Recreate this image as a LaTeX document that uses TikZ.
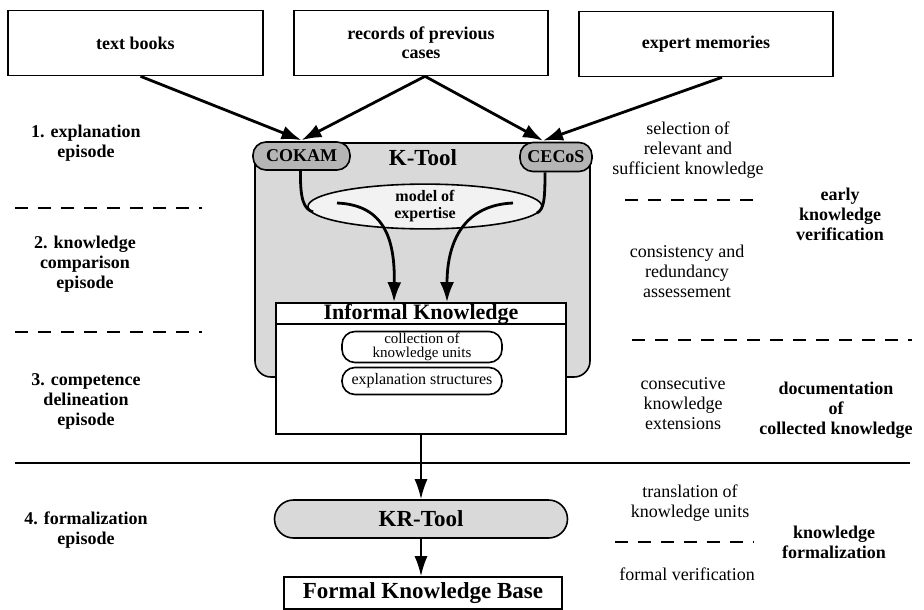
\documentclass[tikz,border=0pt]{standalone}
\usepackage{fontspec}
\setmainfont{Liberation Serif}
\usetikzlibrary{arrows.meta,calc,shapes.geometric}
\begin{document}
\begin{tikzpicture}[x=1pt,y=-1pt,
  srcbox/.style={draw, line width=1.6pt, fill=white, minimum width=#1, minimum height=65pt, inner sep=0pt, align=center, font=\fontsize{18}{19}\selectfont\bfseries},
  lbl/.style={align=center, inner sep=0pt, font=\fontsize{18}{20}\selectfont\bfseries},
  note/.style={align=center, inner sep=0pt, font=\fontsize{18}{20}\selectfont},
  pill/.style={draw, line width=1.6pt, rounded corners=13pt, inner sep=0pt, align=center},
  bigarrow/.style={line width=2.8pt, -{Latex[length=20pt,width=14pt]}},
  downarrow/.style={line width=2pt, -{Latex[length=20pt,width=13pt]}},
  thickline/.style={line width=2.8pt},
  sep/.style={line width=1.1pt, dash pattern=on 13pt off 10pt},
]
\useasboundingbox (0,0) rectangle (924,610);
\fill[white] (0,0) rectangle (924,610);

% separators
\draw[sep] (15,208) -- (202,208);
\draw[sep] (15,332) -- (202,332);
\draw[sep] (625,200) -- (762,200);
\draw[sep] (632,340) -- (912,340);
\draw[sep] (615,542) -- (754,542);
\draw[line width=1.3pt] (15,463) -- (910,463);

% source boxes
\node[srcbox=255pt] (tb) at (135.5,43) {text books};
\node[srcbox=254pt] (rc) at (421,43) {records of previous\\cases};
\node[srcbox=254pt] (em) at (706,44) {expert memories};

% K-Tool
\node[draw, line width=1.6pt, fill=gray!30, rounded corners=16pt, minimum width=335pt, minimum height=234pt, inner sep=0pt] (ktool) at (422.5,260) {};
\node[pill, fill=gray!58, minimum width=97pt, minimum height=28pt, font=\fontsize{18}{18}\selectfont\bfseries] (cokam) at (301.5,156) {COKAM};
\node[pill, fill=gray!58, minimum width=72pt, minimum height=29pt, font=\fontsize{18}{18}\selectfont\bfseries] (cecos) at (556,157) {CECoS};
\node[inner sep=0pt, font=\fontsize{23}{23}\selectfont\bfseries] (ktlabel) at (423,158) {K-Tool};
\node[ellipse, draw, line width=1.6pt, fill=gray!10, minimum width=234pt, minimum height=41pt, inner sep=0pt, align=center, font=\fontsize{16}{17}\selectfont\bfseries] (model) at (425,206.5) {model of\\expertise};

% informal knowledge
\node[draw, line width=1.6pt, fill=white, minimum width=290pt, minimum height=131pt, inner sep=0pt] (informal) at (421,368.5) {};
\draw[line width=1.6pt] ($(informal.north west)+(0,22)$) -- ($(informal.north east)+(0,22)$);
\node[inner sep=0pt, font=\fontsize{22}{22}\selectfont\bfseries] (inftitle) at (421,314) {Informal Knowledge};
\node[pill, fill=white, minimum width=160pt, minimum height=31pt, font=\fontsize{15}{14.5}\selectfont] (coll) at (422,347) {collection of\\knowledge units};
\node[pill, fill=white, minimum width=160pt, minimum height=27pt, font=\fontsize{16}{16}\selectfont] (expl) at (422,381) {explanation structures};

% KR tool and formal KB
\node[draw, line width=1.6pt, fill=gray!30, rounded corners=19pt, minimum width=293pt, minimum height=38pt, inner sep=0pt, font=\fontsize{23}{23}\selectfont\bfseries] (kr) at (421,519) {KR-Tool};
\node[draw, line width=1.6pt, fill=white, minimum width=278pt, minimum height=32pt, inner sep=0pt, font=\fontsize{23}{23}\selectfont\bfseries] (fkb) at (423,593) {Formal Knowledge Base};

% arrows from sources
\draw[bigarrow] ($(tb.south)+(5,0)$) -- ($(cokam.north)+(0,-1)$);
\draw[bigarrow] ($(rc.south)+(4,0)$) -- ($(cokam.north)+(0,-1)$);
\draw[bigarrow] ($(rc.south)+(4,0)$) -- ($(cecos.north)+(-13,-1)$);
\draw[bigarrow] ($(em.south)+(16,0)$) -- ($(cecos.north)+(-13,-1)$);

% tools into model of expertise
\draw[thickline] ($(cokam.south)+(-1,0)$) .. controls (300,200) and (304,209) .. (313,212);
\draw[thickline] ($(cecos.south)+(-11,0)$) .. controls (545,200) and (544,209) .. (537,213);

% model to informal knowledge
\coordinate (m1) at (337,203);
\coordinate (m2) at (513,203);
\draw[bigarrow] (m1) .. controls (385,205) and (395,240) .. ($(informal.north)+(-27,0)$);
\draw[bigarrow] (m2) .. controls (465,205) and (447,240) .. ($(informal.north)+(26,0)$);

% vertical flow
\draw[downarrow] (informal.south) -- (kr.north);
\draw[downarrow] (kr.south) -- (kr.south |- fkb.north);

% left phase labels
\node[lbl] (ep1) at (86,143) {1. explanation\\episode};
\node[lbl] (ep2) at (85,264) {2. knowledge\\comparison\\episode};
\node[lbl] (ep3) at (86,401) {3. competence\\delineation\\episode};
\node[lbl] (ep4) at (86,530) {4. formalization\\episode};

% right activity notes
\node[note] (n1) at (688,150) {selection of\\relevant and\\sufficient knowledge};
\node[note] (n2) at (687,271) {consistency and\\redundancy\\assessement};
\node[note] (n3) at (683,404) {consecutive\\knowledge\\extensions};
\node[note] (n4) at (690,503) {translation of\\knowledge units};
\node[note] (n5) at (687,574) {formal verification};

% right result labels
\node[lbl] (r1) at (840,214) {early\\knowledge\\verification};
\node[lbl] (r2) at (836,410) {documentation\\of\\collected knowledge};
\node[lbl] (r3) at (834,542) {knowledge\\formalization};
\end{tikzpicture}
\end{document}
